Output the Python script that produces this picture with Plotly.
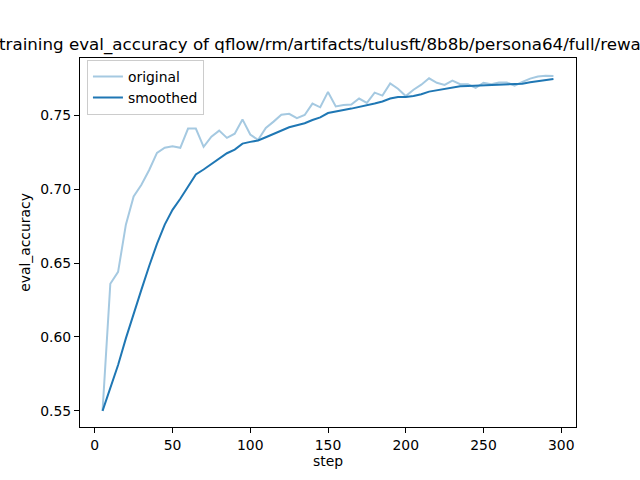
import plotly.graph_objects as go

title_text = "training eval_accuracy of qflow/rm/artifacts/tulusft/8b8b/persona64/full/reward"

steps = [5, 10, 15, 20, 25, 30, 35, 40, 45, 50, 55, 60, 65, 70, 75, 80, 85, 90, 95, 100,
         105, 110, 115, 120, 125, 130, 135, 140, 145, 150, 155, 160, 165, 170, 175, 180, 185, 190, 195, 200,
         205, 210, 215, 220, 225, 230, 235, 240, 245, 250, 255, 260, 265, 270, 275, 280, 285, 290, 295]

original = [0.550, 0.636, 0.644, 0.676, 0.695, 0.703, 0.713, 0.7245, 0.728, 0.729,
            0.728, 0.741, 0.741, 0.7286, 0.7355, 0.7396, 0.7347, 0.7375, 0.7472, 0.737,
            0.7333, 0.7414, 0.7457, 0.7503, 0.751, 0.748, 0.7502, 0.7579, 0.7554, 0.7658,
            0.756, 0.757, 0.7572, 0.7613, 0.7584, 0.7653, 0.7633, 0.7716, 0.768, 0.763,
            0.7673, 0.7707, 0.775, 0.772, 0.7705, 0.7734, 0.771, 0.771, 0.7685, 0.772,
            0.771, 0.7722, 0.7722, 0.770, 0.7725, 0.7748, 0.7762, 0.7768, 0.7766]

smoothed = [0.550, 0.565, 0.581, 0.599, 0.616, 0.632, 0.648, 0.663, 0.676, 0.686,
            0.6935, 0.702, 0.710, 0.7133, 0.717, 0.721, 0.7243, 0.7268, 0.7308, 0.732,
            0.7329, 0.7351, 0.7374, 0.7399, 0.7419, 0.7432, 0.7446, 0.7468, 0.7486, 0.7515,
            0.7527, 0.7536, 0.7545, 0.7556, 0.7563, 0.7579, 0.7593, 0.7613, 0.7624, 0.7624,
            0.763, 0.7642, 0.766, 0.767, 0.768, 0.769, 0.7696, 0.7698, 0.770, 0.7703,
            0.7705, 0.771, 0.771, 0.771, 0.7714, 0.7723, 0.7732, 0.7739, 0.7745]

x_ticks = [0, 50, 100, 150, 200, 250, 300]
y_ticks = [0.55, 0.60, 0.65, 0.70, 0.75]
y_tick_labels = ["0.55", "0.60", "0.65", "0.70", "0.75"]

FONT = "DejaVu Sans"

fig = go.Figure()
fig.add_trace(go.Scatter(x=steps, y=original, mode="lines", name="original",
                         line=dict(color="#a5c9e1", width=2)))
fig.add_trace(go.Scatter(x=steps, y=smoothed, mode="lines", name="smoothed",
                         line=dict(color="#1f77b4", width=2)))

axis_common = dict(showline=True, linecolor="black", linewidth=1, mirror=True,
                   ticks="outside", ticklen=5, tickwidth=1, tickcolor="black",
                   showgrid=False, zeroline=False, automargin=False,
                   tickfont=dict(family=FONT, size=13.9, color="black"))

fig.update_xaxes(range=[-9.5, 309.5], tickvals=x_ticks,
                 title=dict(text="step", font=dict(family=FONT, size=13.9, color="black"), standoff=4),
                 **axis_common)
fig.update_yaxes(range=[0.53905, 0.78875], tickvals=y_ticks, ticktext=y_tick_labels,
                 title=dict(text="eval_accuracy", font=dict(family=FONT, size=13.9, color="black"), standoff=6),
                 **axis_common)

fig.add_annotation(text=title_text, xref="paper", yref="paper", x=0.5, y=1.0,
                   xanchor="center", yanchor="bottom", yshift=1, showarrow=False,
                   font=dict(family=FONT, size=16.7, color="black"))

fig.update_layout(
    width=640, height=480,
    margin=dict(l=80, r=64, t=57.6, b=52.8, autoexpand=False),
    plot_bgcolor="white", paper_bgcolor="white",
    font=dict(family=FONT, size=13.9, color="black"),
    showlegend=True,
    legend=dict(x=0.014, y=0.995, xanchor="left", yanchor="top",
                bgcolor="rgba(255,255,255,0.8)", bordercolor="#cccccc", borderwidth=1,
                font=dict(family=FONT, size=13.9, color="black"),
                tracegroupgap=0, itemwidth=30),
)

fig.write_html("out.html", config={"displayModeBar": False},
               post_script="document.body.style.margin='0';document.body.style.overflow='hidden';")
